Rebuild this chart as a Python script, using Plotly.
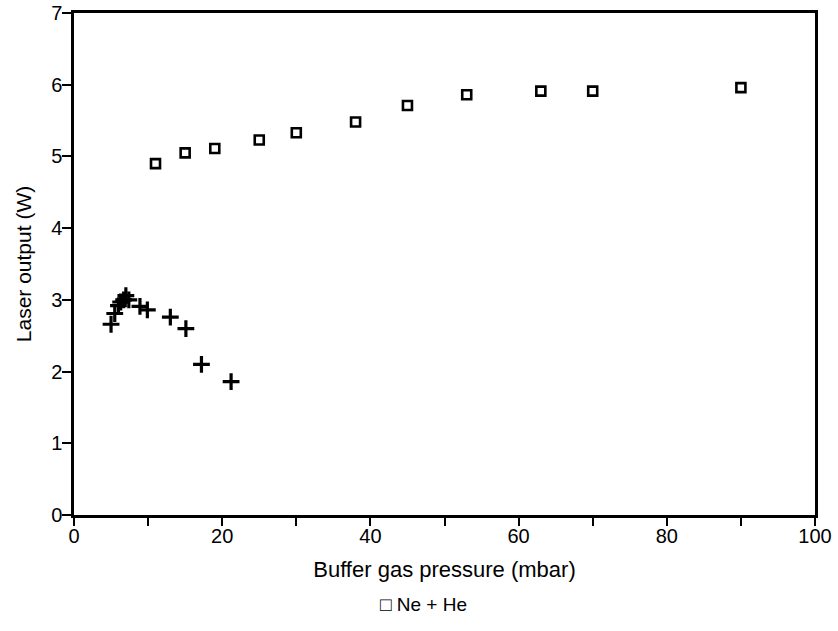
import plotly.graph_objects as go

# Ne buffer gas (squares)
ne_pressure = [11, 15, 19, 25, 30, 38, 45, 53, 63, 70, 90]
ne_output = [4.90, 5.05, 5.11, 5.23, 5.33, 5.48, 5.71, 5.86, 5.91, 5.91, 5.96]

# He buffer gas (crosses)
he_pressure = [5.0, 5.5, 6.0, 6.3, 6.7, 7.0, 7.4, 8.9, 9.9, 13.0, 15.1, 17.2, 21.2]
he_output = [2.66, 2.81, 2.92, 2.97, 3.00, 3.06, 3.00, 2.91, 2.86, 2.76, 2.60, 2.10, 1.86]

x_ticks = [0, 20, 40, 60, 80, 100]
y_ticks = [0, 1, 2, 3, 4, 5, 6, 7]
legend_text = "\u25a1 Ne + He"

FONT = "Liberation Sans, Arial, sans-serif"

fig = go.Figure()
fig.add_trace(go.Scatter(
    x=ne_pressure, y=ne_output, mode="markers", name="Ne", showlegend=False,
    marker=dict(symbol="square-open", size=9, color="black", line=dict(width=2.6, color="black")),
))
fig.add_trace(go.Scatter(
    x=he_pressure, y=he_output, mode="markers", name="He", showlegend=False,
    marker=dict(symbol="cross-thin-open", size=12, color="black", line=dict(width=3.2, color="black")),
))

fig.add_annotation(
    text=legend_text, xref="paper", yref="paper", x=0.472, y=-0.178,
    xanchor="center", yanchor="middle", showarrow=False,
    font=dict(family=FONT, size=19, color="black"),
)

fig.update_layout(
    width=838, height=631,
    margin=dict(l=74, r=23, t=13, b=116, autoexpand=False),
    paper_bgcolor="white", plot_bgcolor="white",
    font=dict(family=FONT, size=20, color="black"),
    xaxis=dict(
        range=[0, 100], tickvals=x_ticks, ticks="outside", ticklen=8, tickwidth=2,
        tickcolor="black", showline=True, linewidth=2.5, linecolor="black", mirror=True,
        showgrid=False, zeroline=False, automargin=True, ticklabelstandoff=-7,
        minor=dict(dtick=10, ticks="outside", ticklen=8, tickwidth=2, tickcolor="black", showgrid=False),
        tickfont=dict(size=20),
        title=dict(text="Buffer gas pressure (mbar)", font=dict(size=22), standoff=16),
    ),
    yaxis=dict(
        range=[0, 7], tickvals=y_ticks, ticks="outside", ticklen=9, tickwidth=2,
        tickcolor="black", showline=True, linewidth=2.5, linecolor="black", mirror=True,
        showgrid=False, zeroline=False, automargin=False, ticklabelstandoff=-4,
        tickfont=dict(size=20),
        title=dict(text="Laser output (W)", font=dict(size=21), standoff=14),
    ),
)

fig.write_html("out.html")
